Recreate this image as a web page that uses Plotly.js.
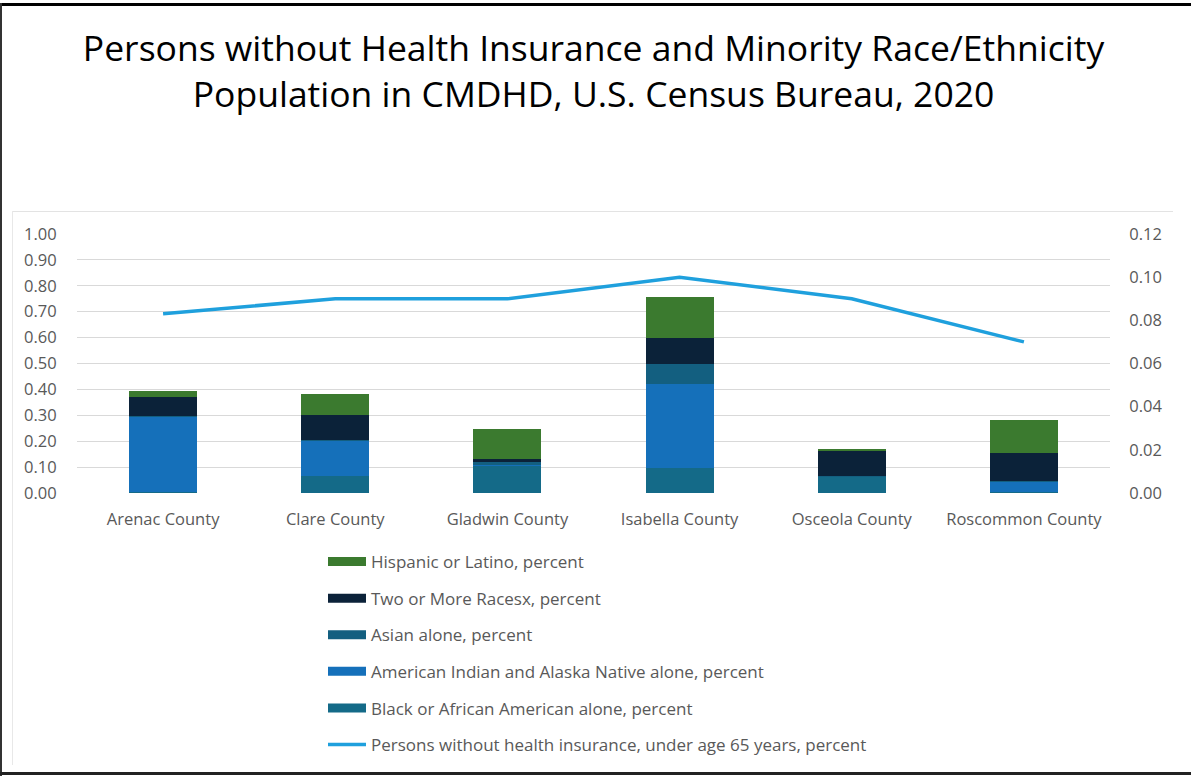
<!DOCTYPE html>
<html>
<head>
<meta charset="utf-8">
<script src="https://cdn.plot.ly/plotly-3.0.1.min.js"></script>
<style>
  html, body { margin: 0; padding: 0; background: #ffffff; }
  #wrap { position: relative; width: 1191px; height: 776px; overflow: hidden; }
  #chart { position: absolute; left: 0; top: 0; width: 1191px; height: 776px; }
  .frame { position: absolute; pointer-events: none; }
</style>
</head>
<body>
<div id="wrap">
  <div id="chart"></div>
  <div class="frame" style="left:0;top:3px;width:1191px;height:3px;background:#000;"></div>
  <div class="frame" style="left:0;top:3px;width:2px;height:773px;background:#333;"></div>
  <div class="frame" style="left:0;top:772px;width:1191px;height:3px;background:#222;"></div>
  <div class="frame" style="left:12px;top:211px;width:1161px;height:1px;background:#e3e3e3;"></div>
  <div class="frame" style="left:12px;top:211px;width:1px;height:554px;background:#e8e8e8;"></div>
</div>
<script>
const counties = ['Arenac County', 'Clare County', 'Gladwin County', 'Isabella County', 'Osceola County', 'Roscommon County'];
const blackPct = [0.005, 0.065, 0.105, 0.098, 0.060, 0.002];
const aianPct = [0.290, 0.136, 0.005, 0.324, 0.003, 0.041];
const asianPct = [0.003, 0.002, 0.008, 0.075, 0.003, 0.002];
const twoPct = [0.072, 0.100, 0.015, 0.102, 0.098, 0.111];
const hispPct = [0.024, 0.080, 0.113, 0.157, 0.004, 0.124];
const uninsuredPct = [0.083, 0.090, 0.090, 0.100, 0.090, 0.070];
const leftTicks = [0, 0.1, 0.2, 0.3, 0.4, 0.5, 0.6, 0.7, 0.8, 0.9, 1.0];
const rightTicks = [0, 0.02, 0.04, 0.06, 0.08, 0.10, 0.12];

const names = {
  hisp: 'Hispanic or Latino, percent',
  two: 'Two or More Racesx, percent',
  asian: 'Asian alone, percent',
  aian: 'American Indian and Alaska Native alone, percent',
  black: 'Black or African American alone, percent',
  line: 'Persons without health insurance, under age 65 years, percent'
};
const colors = {
  hisp: '#3b7a2f',
  two: '#0b2239',
  asian: '#135f80',
  aian: '#1570ba',
  black: '#146a88',
  line: '#1fa0dd'
};

const series = [
  ['black', blackPct], ['aian', aianPct], ['asian', asianPct], ['two', twoPct], ['hisp', hispPct]
];
const rank = { hisp: 1, two: 2, asian: 3, aian: 4, black: 5, line: 6 };

const traces = [];
series.forEach(([k, vals]) => {
  traces.push({
    type: 'bar', x: counties, y: vals, name: names[k],
    marker: { color: colors[k], line: { width: 0 } },
    showlegend: false, legendgroup: k, hoverinfo: 'y+name'
  });
});
// legend entries (wide swatches)
series.forEach(([k]) => {
  traces.push({
    type: 'scatter', mode: 'lines', x: [null], y: [null], name: names[k],
    line: { color: colors[k], width: 9 }, legendgroup: k, legendrank: rank[k],
    showlegend: true, hoverinfo: 'skip'
  });
});
traces.push({
  type: 'scatter', mode: 'lines', x: counties, y: uninsuredPct, name: names.line,
  yaxis: 'y2', line: { color: colors.line, width: 3.5 },
  legendgroup: 'line', legendrank: rank.line
});

const tickFont = { family: 'Open Sans, sans-serif', size: 16.5, color: '#595959' };

const layout = {
  width: 1191, height: 776,
  margin: { l: 77, r: 81, t: 234, b: 283, pad: 0, autoexpand: false },
  paper_bgcolor: '#ffffff', plot_bgcolor: '#ffffff',
  barmode: 'stack', bargap: 0.605,
  showlegend: true,
  title: {
    text: 'Persons without Health Insurance and Minority Race/Ethnicity<br>Population in CMDHD, U.S. Census Bureau, 2020',
    font: { family: 'Open Sans, sans-serif', size: 35.5, color: '#000000' },
    x: 0.5, xanchor: 'center', xref: 'paper', y: 0.922, yanchor: 'middle', yref: 'container'
  },
  xaxis: {
    type: 'category', tickfont: tickFont, showgrid: false, zeroline: false, showline: false,
    ticks: 'outside', ticklen: 11, tickcolor: 'rgba(0,0,0,0)', fixedrange: true
  },
  yaxis: {
    range: [0, 1.0], tickvals: leftTicks, tickformat: '.2f', tickfont: tickFont,
    showgrid: true, gridcolor: '#d9d9d9', gridwidth: 1, zeroline: false, showline: false,
    ticks: 'outside', ticklen: 16, tickcolor: 'rgba(0,0,0,0)', fixedrange: true
  },
  yaxis2: {
    overlaying: 'y', side: 'right', range: [0, 0.12], tickvals: rightTicks, tickformat: '.2f',
    tickfont: tickFont, showgrid: false, zeroline: false, showline: false,
    ticks: 'outside', ticklen: 15, tickcolor: 'rgba(0,0,0,0)', fixedrange: true
  },
  legend: {
    orientation: 'v', traceorder: 'grouped', tracegroupgap: 11.5,
    x: 0.21, xanchor: 'left', xref: 'paper', y: 555, yref: 'paper', yanchor: 'top',
    font: { family: 'Open Sans, sans-serif', size: 17, color: '#595959' },
    itemwidth: 38, bgcolor: 'rgba(0,0,0,0)'
  }
};
// legend position given in pixels -> convert to paper coords
const plotH = 776 - 234 - 283;
layout.legend.y = (776 - 283 - 544) / plotH;
layout.legend.x = (323 - 77) / (1191 - 77 - 81);

Plotly.newPlot('chart', traces, layout, { displayModeBar: false, staticPlot: true });
</script>
</body>
</html>
